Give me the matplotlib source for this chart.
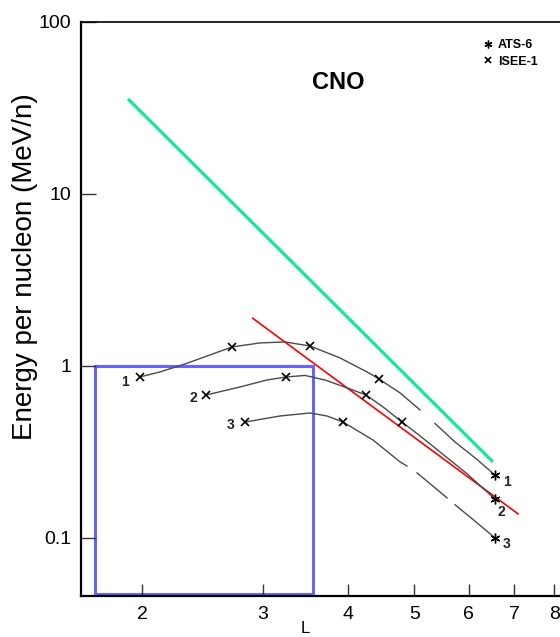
import matplotlib
matplotlib.use("Agg")
import matplotlib.pyplot as plt
from matplotlib.patches import Rectangle
from matplotlib.ticker import NullLocator

plt.rcParams['font.family'] = ['Liberation Sans', 'DejaVu Sans']

# straight reference lines (end points)
green_l = [1.907, 6.51]
green_e = [35.7, 0.277]
red_l = [2.901, 7.087]
red_e = [1.894, 0.138]

# box drawn on the plot
box_l = [1.706, 3.553]
box_e = [0.0475, 1.0]

# curve 1 (solid part, then the part after the gap)
curve1a_l = [1.985, 2.123, 2.310, 2.513, 2.706, 2.973, 3.235, 3.518, 3.893, 4.263, 4.438, 4.763, 5.095]
curve1a_e = [0.863, 0.923, 1.027, 1.159, 1.290, 1.361, 1.379, 1.307, 1.113, 0.923, 0.840, 0.697, 0.555]
curve1b_l = [5.359, 5.733, 6.133, 6.559]
curve1b_e = [0.463, 0.361, 0.292, 0.232]

# curve 2
curve2_l = [2.480, 2.780, 3.044, 3.246, 3.459, 3.700, 4.025, 4.249, 4.498, 4.795, 5.095, 5.451, 5.970, 6.559]
curve2_e = [0.678, 0.755, 0.829, 0.863, 0.881, 0.829, 0.735, 0.678, 0.578, 0.472, 0.392, 0.316, 0.236, 0.168]

# curve 3 (three dashes)
curve3a_l = [2.827, 3.181, 3.518, 3.725, 3.932, 4.350, 4.763, 4.876]
curve3a_e = [0.472, 0.512, 0.533, 0.512, 0.472, 0.371, 0.277, 0.262]
curve3b_l = [5.044, 5.580]
curve3b_e = [0.239, 0.171]
curve3c_l = [5.733, 6.133, 6.559]
curve3c_e = [0.156, 0.125, 0.100]

# measured points
isee_l = [1.985, 2.706, 3.518, 4.438, 2.480, 3.246, 4.249, 4.795, 2.827, 3.932]
isee_e = [0.863, 1.290, 1.307, 0.840, 0.678, 0.863, 0.678, 0.472, 0.472, 0.472]
ats_l = [6.559, 6.559, 6.559]
ats_e = [0.232, 0.168, 0.100]

curve_names = ['1', '2', '3']
start_l = [1.985, 2.480, 2.827]
start_e = [0.863, 0.678, 0.472]

x_ticks = [2, 3, 4, 5, 6, 7, 8]
y_ticks = [0.1, 1, 10, 100]
y_ticklabels = ['0.1', '1', '10', '100']

fig = plt.figure(figsize=(5.6, 6.37), dpi=100)
ax = fig.add_axes([0.1443, 0.0644, 0.8557, 0.9011])
ax.set_xscale('log')
ax.set_yscale('log')
ax.set_xlim(1.627, 8.16)
ax.set_ylim(0.046, 100)

ax.plot(green_l, green_e, color='#14e89a', lw=2.3, solid_capstyle='butt')
ax.plot(red_l, red_e, color='#ff0000', lw=1.2)

ax.add_patch(Rectangle((box_l[0], box_e[0]), box_l[1] - box_l[0], box_e[1] - box_e[0],
                       fill=False, edgecolor='#6464ff', lw=2.2))

curve_style = dict(color='#4a4a4a', lw=1.0)
for xs, ys in [(curve1a_l, curve1a_e), (curve1b_l, curve1b_e), (curve2_l, curve2_e),
               (curve3a_l, curve3a_e), (curve3b_l, curve3b_e), (curve3c_l, curve3c_e)]:
    ax.plot(xs, ys, **curve_style)

ats, = ax.plot(ats_l, ats_e, ls='none', marker=(6, 2, 0), ms=7, mew=1.0,
               color='black', label='ATS-6')
isee, = ax.plot(isee_l, isee_e, ls='none', marker='x', ms=6, mew=1.2,
                color='black', label='ISEE-1')

# curve numbers
left_off = [(-15, -5), (-13, -3), (-14, -3)]
right_off = [(12, -7), (6, -13), (11, -6)]
for i, name in enumerate(curve_names):
    ax.annotate(name, (start_l[i], start_e[i]), xytext=left_off[i], textcoords='offset pixels',
                ha='center', va='center', fontsize=10, fontweight='bold', color='#222222')
    ax.annotate(name, (ats_l[i], ats_e[i]), xytext=right_off[i], textcoords='offset pixels',
                ha='center', va='center', fontsize=10, fontweight='bold', color='#222222')

ax.text(0.5367, 0.8953, 'CNO', transform=ax.transAxes, ha='center', va='center',
        fontsize=17, fontweight='bold')

ax.legend(handles=[ats, isee], loc='upper left', bbox_to_anchor=(0.842, 0.970),
          frameon=False, prop={'weight': 'bold', 'size': 9}, handlelength=0.6,
          handletextpad=0.5, borderpad=0, borderaxespad=0, labelspacing=0.35,
          markerscale=0.8)

ax.set_xticks(x_ticks)
ax.set_xticklabels([str(t) for t in x_ticks])
ax.set_yticks(y_ticks)
ax.set_yticklabels(y_ticklabels)
ax.xaxis.set_minor_locator(NullLocator())
ax.yaxis.set_minor_locator(NullLocator())
ax.tick_params(axis='x', direction='in', length=9, width=1, color='#333333',
               labelsize=14, pad=7)
ax.tick_params(axis='y', direction='in', length=11, width=1, color='#333333',
               labelsize=14, pad=7)

ax.spines['right'].set_visible(False)
ax.spines['left'].set_linewidth(1.6)
ax.spines['bottom'].set_linewidth(1.6)
ax.spines['top'].set_linewidth(1.2)

ax.set_ylabel('Energy per nucleon (MeV/n)', fontsize=20)
ax.yaxis.set_label_coords(-0.09, 0.574)
fig.text(301 / 560, 1 - 621 / 637, 'L', ha='left', va='top', fontsize=12)

fig.savefig('out.png', dpi=100)
